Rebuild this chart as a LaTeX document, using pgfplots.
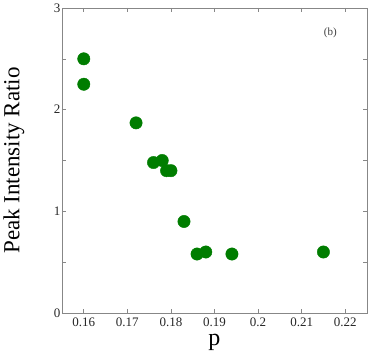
\documentclass[border=0pt]{standalone}
\usepackage{fontspec}
\setmainfont{Liberation Serif}
\usepackage{pgfplots}
\pgfplotsset{compat=1.18}
\definecolor{dotgreen}{RGB}{0,125,0}
\definecolor{framegray}{RGB}{135,135,135}
\begin{document}
\begin{tikzpicture}
\begin{axis}[
    scale only axis,
    width=305pt,
    height=305pt,
    xmin=0.155, xmax=0.225,
    ymin=0, ymax=3,
    xtick={0.16,0.17,0.18,0.19,0.2,0.21,0.22},
    xticklabels={0.16,0.17,0.18,0.19,0.2,0.21,0.22},
    ytick={0,1,2,3},
    minor ytick={0.5,1.5,2.5},
    tick align=inside,
    major tick length=4pt,
    minor tick length=4pt,
    axis line style={framegray, line width=0.8pt},
    every tick/.style={framegray, line width=0.6pt},
    tick label style={font=\fontsize{13}{15}\selectfont, text=black!85},
    xticklabel style={yshift=-1pt},
    yticklabel style={xshift=2pt},
    xlabel={p},
    ylabel={Peak Intensity Ratio},
    every axis x label/.style={at={(axis description cs:0.5,-0.098)}, anchor=center,
        font=\fontsize{24}{26}\selectfont},
    every axis y label/.style={at={(axis description cs:-0.158,0.5)}, rotate=90, anchor=center,
        font=\fontsize{23}{26}\selectfont},
    /pgf/number format/assume math mode=true,
]
\addplot[only marks, mark=*, mark size=6.2pt, color=dotgreen, mark options={draw=none, fill=dotgreen}] coordinates {
    (0.160,2.50)
    (0.160,2.25)
    (0.172,1.87)
    (0.176,1.48)
    (0.178,1.50)
    (0.179,1.40)
    (0.180,1.40)
    (0.183,0.90)
    (0.186,0.58)
    (0.188,0.60)
    (0.194,0.58)
    (0.215,0.60)
};
\node[font=\fontsize{11}{13}\selectfont, text=black!75] at (rel axis cs:0.88,0.92) {(b)};
\end{axis}
\pgfresetboundingbox
\path[use as bounding box] (-62pt,-50pt) rectangle (309pt,313pt);
\end{tikzpicture}
\end{document}
